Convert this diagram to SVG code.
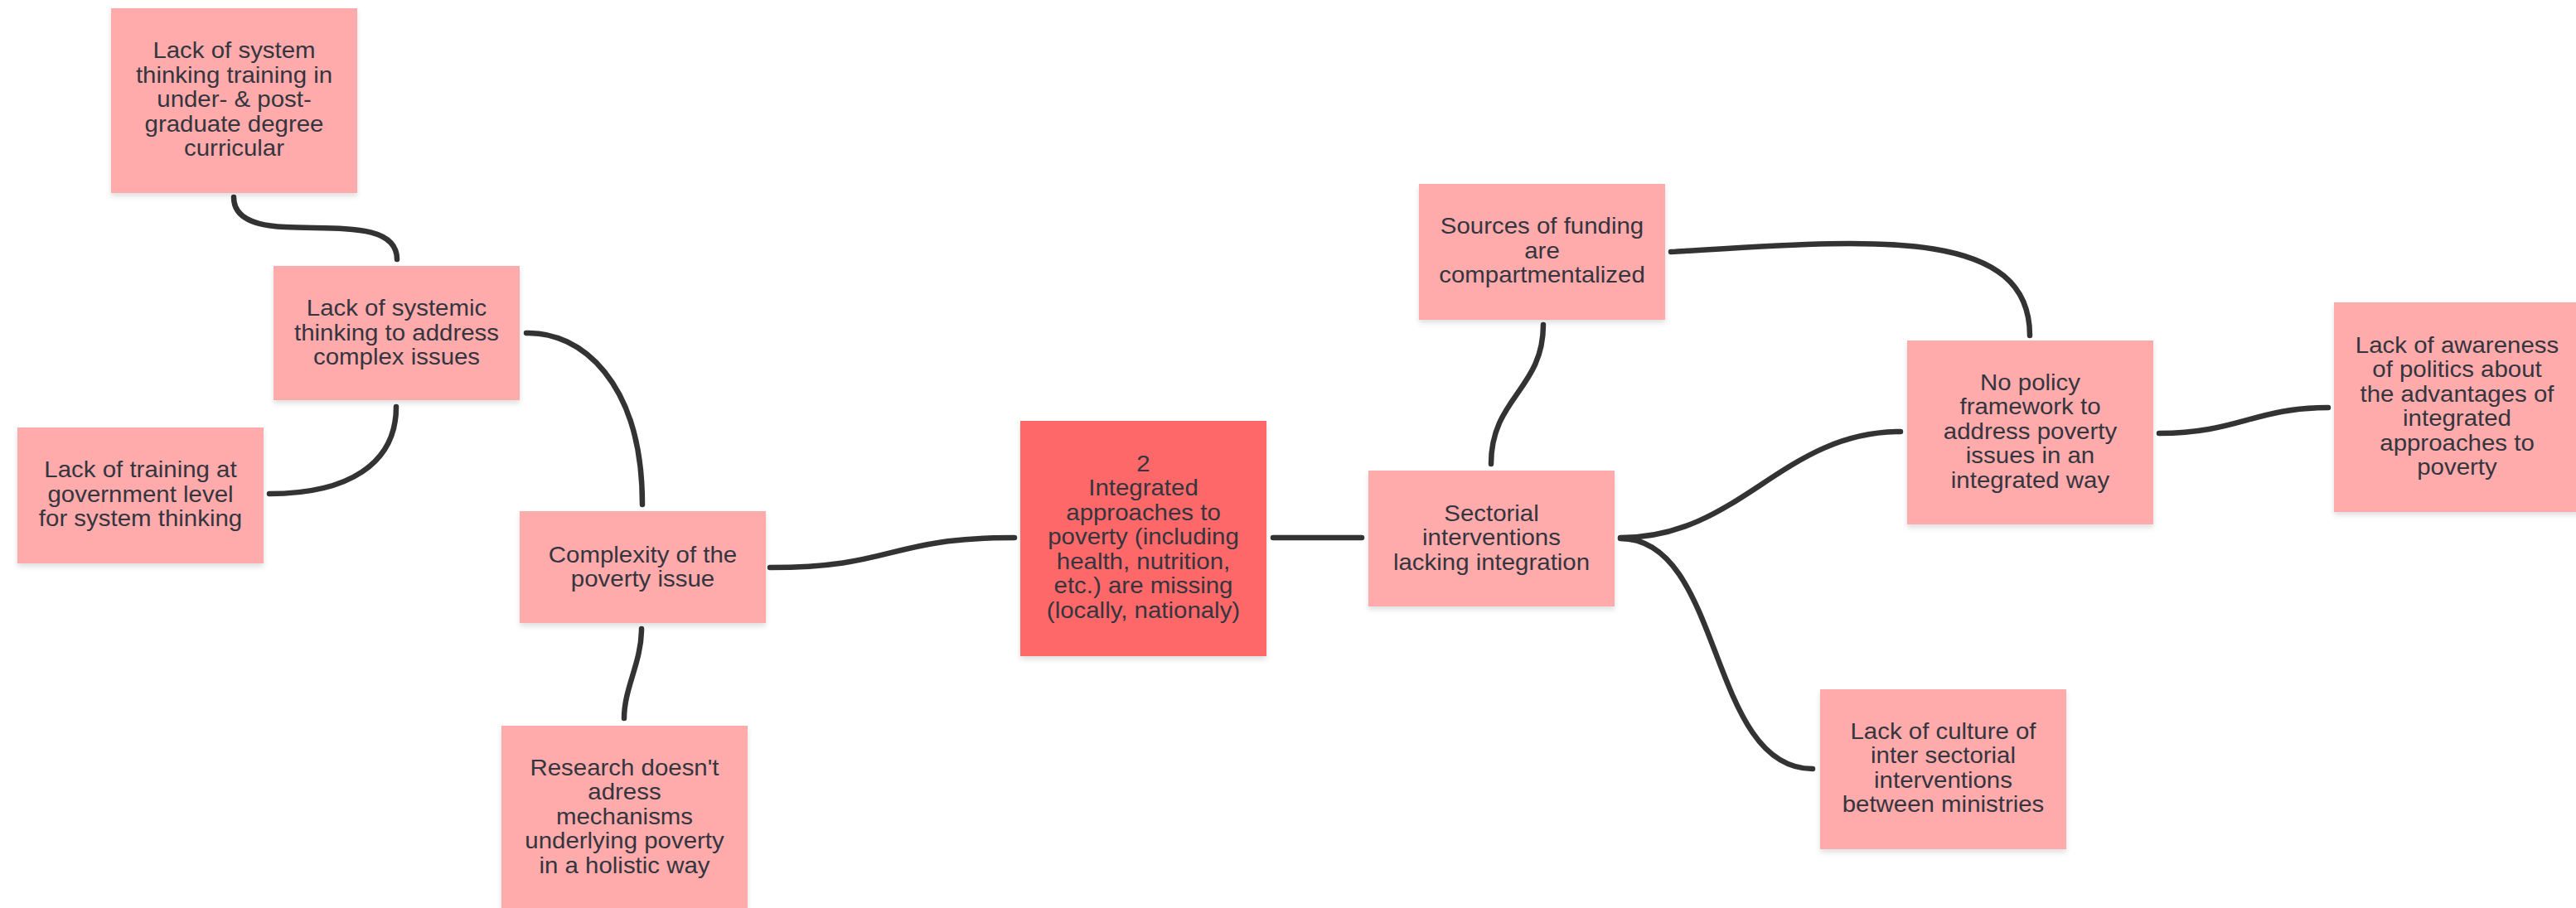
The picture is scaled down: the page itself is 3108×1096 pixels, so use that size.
<svg xmlns="http://www.w3.org/2000/svg" width="3108" height="1096" viewBox="0 0 3108 1096">
<defs>
<filter id="sh" x="-10%" y="-10%" width="120%" height="130%">
<feDropShadow dx="0" dy="4" stdDeviation="3" flood-color="#000" flood-opacity="0.12"/>
</filter>
<style>
.note{fill:#ffabab;filter:url(#sh)}
.main{fill:#ff6868;filter:url(#sh)}
.lbl{font-family:"Liberation Sans",Arial,sans-serif;font-size:27px;fill:#35353f;text-anchor:middle}
.edge{fill:none;stroke:#333;stroke-width:6.5;stroke-linecap:round}
</style>
</defs>
<rect width="3108" height="1096" fill="#fff"/>
<g id="connectors">
<path class="edge" d="M282,238 C282,310 479,240 479,313"/>
<path class="edge" d="M478,491 C478,560 420,596 325,596"/>
<path class="edge" d="M635,402 C700,400 775,460 775,609"/>
<path class="edge" d="M929,685 C1080,685 1070,649 1224,649"/>
<path class="edge" d="M774,759 C774,800 753,830 753,867"/>
<path class="edge" d="M1536,649 L1643,649"/>
<path class="edge" d="M1862,392 C1862,470 1799,480 1799,560"/>
<path class="edge" d="M2016,304 C2250,290 2449,270 2449,405"/>
<path class="edge" d="M1955,649 C2100,649 2150,521 2293,521"/>
<path class="edge" d="M1955,650 C2080,650 2060,928 2187,928"/>
<path class="edge" d="M2605,523 C2700,523 2720,492 2809,492"/>
</g>
<g id="n-curricula">
<rect class="note" x="134" y="10" width="297" height="223"/>
<text class="lbl" transform="translate(282.5 0) scale(1.09 1)"><tspan x="0" y="70.5">Lack of system</tspan><tspan x="0" dy="29.5">thinking training in</tspan><tspan x="0" dy="29.5">under- &amp; post-</tspan><tspan x="0" dy="29.5">graduate degree</tspan><tspan x="0" dy="29.5">curricular</tspan></text>
</g>
<g id="n-systemic">
<rect class="note" x="330" y="321" width="297" height="162"/>
<text class="lbl" transform="translate(478.5 0) scale(1.09 1)"><tspan x="0" y="381.5">Lack of systemic</tspan><tspan x="0" dy="29.5">thinking to address</tspan><tspan x="0" dy="29.5">complex issues</tspan></text>
</g>
<g id="n-government">
<rect class="note" x="21" y="516" width="297" height="164"/>
<text class="lbl" transform="translate(169.5 0) scale(1.09 1)"><tspan x="0" y="576.5">Lack of training at</tspan><tspan x="0" dy="29.5">government level</tspan><tspan x="0" dy="29.5">for system thinking</tspan></text>
</g>
<g id="n-complexity">
<rect class="note" x="627" y="617" width="297" height="135"/>
<text class="lbl" transform="translate(775.5 0) scale(1.09 1)"><tspan x="0" y="679">Complexity of the</tspan><tspan x="0" dy="29.5">poverty issue</tspan></text>
</g>
<g id="n-research">
<rect class="note" x="605" y="876" width="297" height="224"/>
<text class="lbl" transform="translate(753.5 0) scale(1.09 1)"><tspan x="0" y="936">Research doesn't</tspan><tspan x="0" dy="29.5">adress</tspan><tspan x="0" dy="29.5">mechanisms</tspan><tspan x="0" dy="29.5">underlying poverty</tspan><tspan x="0" dy="29.5">in a holistic way</tspan></text>
</g>
<g id="n-main">
<rect class="main" x="1231" y="508" width="297" height="284"/>
<text class="lbl" transform="translate(1379.5 0) scale(1.09 1)"><tspan x="0" y="569">2</tspan><tspan x="0" dy="29.5">Integrated</tspan><tspan x="0" dy="29.5">approaches to</tspan><tspan x="0" dy="29.5">poverty (including</tspan><tspan x="0" dy="29.5">health, nutrition,</tspan><tspan x="0" dy="29.5">etc.) are missing</tspan><tspan x="0" dy="29.5">(locally, nationaly)</tspan></text>
</g>
<g id="n-sectorial">
<rect class="note" x="1651" y="568" width="297" height="164"/>
<text class="lbl" transform="translate(1799.5 0) scale(1.09 1)"><tspan x="0" y="629">Sectorial</tspan><tspan x="0" dy="29.5">interventions</tspan><tspan x="0" dy="29.5">lacking integration</tspan></text>
</g>
<g id="n-funding">
<rect class="note" x="1712" y="222" width="297" height="164"/>
<text class="lbl" transform="translate(1860.5 0) scale(1.09 1)"><tspan x="0" y="282.5">Sources of funding</tspan><tspan x="0" dy="29.5">are</tspan><tspan x="0" dy="29.5">compartmentalized</tspan></text>
</g>
<g id="n-policy">
<rect class="note" x="2301" y="411" width="297" height="222"/>
<text class="lbl" transform="translate(2449.5 0) scale(1.09 1)"><tspan x="0" y="471">No policy</tspan><tspan x="0" dy="29.5">framework to</tspan><tspan x="0" dy="29.5">address poverty</tspan><tspan x="0" dy="29.5">issues in an</tspan><tspan x="0" dy="29.5">integrated way</tspan></text>
</g>
<g id="n-awareness">
<rect class="note" x="2816" y="365" width="297" height="253"/>
<text class="lbl" transform="translate(2964.5 0) scale(1.09 1)"><tspan x="0" y="426">Lack of awareness</tspan><tspan x="0" dy="29.5">of politics about</tspan><tspan x="0" dy="29.5">the advantages of</tspan><tspan x="0" dy="29.5">integrated</tspan><tspan x="0" dy="29.5">approaches to</tspan><tspan x="0" dy="29.5">poverty</tspan></text>
</g>
<g id="n-culture">
<rect class="note" x="2196" y="832" width="297" height="193"/>
<text class="lbl" transform="translate(2344.5 0) scale(1.09 1)"><tspan x="0" y="892">Lack of culture of</tspan><tspan x="0" dy="29.5">inter sectorial</tspan><tspan x="0" dy="29.5">interventions</tspan><tspan x="0" dy="29.5">between ministries</tspan></text>
</g>
</svg>
